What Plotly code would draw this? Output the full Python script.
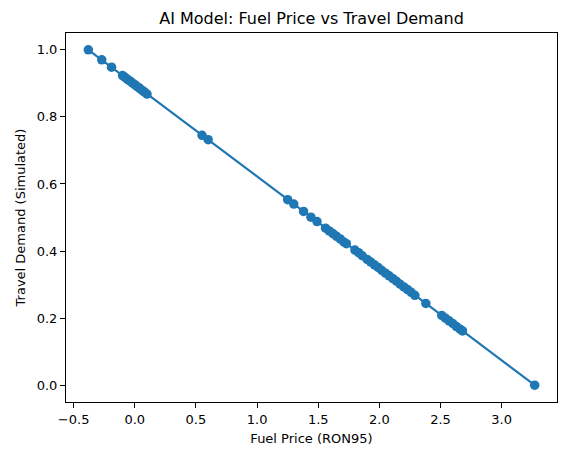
import plotly.graph_objects as go

# fuel price (x) and simulated travel demand (y)
fuel_price = [
    -0.38, -0.27, -0.19, -0.10, -0.08, -0.06, -0.04, -0.02, 0.00, 0.02,
    0.04, 0.06, 0.08, 0.10, 0.55, 0.60, 1.25, 1.30, 1.38, 1.44,
    1.49, 1.56, 1.59, 1.62, 1.65, 1.68, 1.71, 1.73, 1.80, 1.83,
    1.86, 1.90, 1.93, 1.96, 1.99, 2.02, 2.05, 2.08, 2.11, 2.14,
    2.17, 2.20, 2.23, 2.26, 2.29, 2.38, 2.51, 2.54, 2.57, 2.60,
    2.63, 2.66, 2.68, 3.27,
]
travel_demand = [
    1.000, 0.970, 0.948, 0.923, 0.918, 0.912, 0.907, 0.901, 0.896, 0.890,
    0.885, 0.879, 0.874, 0.868, 0.745, 0.732, 0.553, 0.540, 0.518, 0.501,
    0.488, 0.468, 0.460, 0.452, 0.444, 0.436, 0.427, 0.422, 0.403, 0.395,
    0.386, 0.375, 0.367, 0.359, 0.351, 0.342, 0.334, 0.326, 0.318, 0.310,
    0.301, 0.293, 0.285, 0.277, 0.268, 0.244, 0.208, 0.200, 0.192, 0.184,
    0.175, 0.167, 0.162, 0.000,
]

x_ticks = [-0.5, 0.0, 0.5, 1.0, 1.5, 2.0, 2.5, 3.0]
y_ticks = [0.0, 0.2, 0.4, 0.6, 0.8, 1.0]

BLUE = "#1f77b4"
FONT = "DejaVu Sans"

fig = go.Figure()
fig.add_trace(go.Scatter(
    x=fuel_price, y=travel_demand,
    mode="lines+markers",
    line=dict(color=BLUE, width=2.2),
    marker=dict(color=BLUE, size=9.5),
    showlegend=False,
))

axis_common = dict(
    showline=True, linecolor="black", linewidth=1, mirror=True,
    ticks="outside", ticklen=5, tickwidth=1, tickcolor="black",
    showgrid=False, zeroline=False,
    tickfont=dict(family=FONT, size=13, color="black"),
)

# page body has an 8px margin: trim left/top by 8, pad right/bottom by 8
fig.update_layout(
    width=567, height=455,
    margin=dict(l=54, r=18, t=25, b=61),
    paper_bgcolor="white", plot_bgcolor="white",
    font=dict(family=FONT, color="black"),
    title=dict(
        text="AI Model: Fuel Price vs Travel Demand",
        font=dict(family=FONT, size=16, color="black"),
        x=0.5, xref="paper", xanchor="center",
        y=1 - 10 / 455, yref="container", yanchor="middle",
    ),
    xaxis=dict(
        **axis_common,
        range=[-0.5625, 3.4525],
        tickvals=x_ticks, ticktext=[f"{v:.1f}".replace("-", "\u2212") for v in x_ticks],
        title=dict(text="Fuel Price (RON95)", font=dict(family=FONT, size=13), standoff=8),
    ),
    yaxis=dict(
        **axis_common,
        range=[-0.05, 1.05],
        tickvals=y_ticks, ticktext=[f"{v:.1f}" for v in y_ticks],
        title=dict(text="Travel Demand (Simulated)", font=dict(family=FONT, size=13), standoff=8),
    ),
)

fig.write_html("out.html")
